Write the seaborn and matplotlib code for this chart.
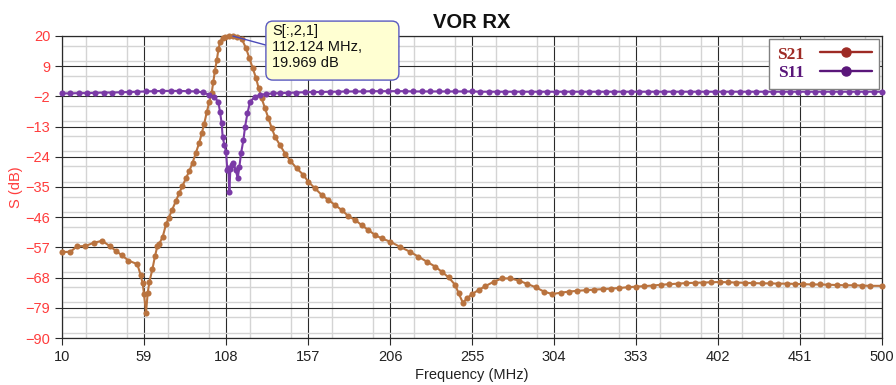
import matplotlib
matplotlib.use("Agg")
import matplotlib.pyplot as plt
from matplotlib.lines import Line2D
from matplotlib.patches import FancyBboxPatch
from matplotlib.ticker import FixedLocator, MultipleLocator
import seaborn as sns
import pandas as pd

# S21 trace (MHz, dB)
s21_freq = [10, 15, 19, 24, 29, 34, 38.5, 42.3, 45.8, 49.7, 55, 57, 58.2, 59, 60.2, 61.2,
            62.2, 64, 65.6, 67, 68.2, 70.2, 72.2, 73.8, 75.8, 78, 80, 82, 84, 86, 88, 90,
            92, 93.5, 95, 96.5, 98, 99.4, 100.4, 101.4, 102.5, 103.5, 104.5, 106, 107.5,
            109.5, 112.124, 114.5, 117.4, 120, 122, 124, 126, 127.5, 129.3, 131.3, 133.3,
            135.3, 137.3, 140.3, 143.3, 146.3, 150.3, 154.2, 157.2, 161.2, 165.2, 169.2,
            173.2, 177.2, 181.1, 185.1, 189.1, 193.1, 197.1, 201, 206, 212, 218, 223, 228,
            233, 237, 241, 245, 247, 249.5, 252, 255, 259, 263, 268, 273, 278, 283, 288,
            293, 298, 303, 308, 313, 318, 323, 328, 333, 338, 343, 348, 353, 358, 363, 368,
            373, 378, 383, 388, 393, 398, 403, 408, 413, 418, 423, 428, 433, 438, 443, 448,
            453, 458, 463, 468, 473, 478, 483, 488, 493, 500]
s21_db = [-58.7, -58.6, -56.6, -56.5, -55.3, -54.6, -56.5, -58.3, -59.9, -61.8, -63.1, -67.1,
          -70.1, -74.0, -80.8, -73.7, -69.6, -65.0, -60.1, -56.5, -55.6, -53.1, -48.5, -46.2,
          -43.4, -40.1, -37.3, -34.6, -31.9, -29.3, -26.2, -22.6, -18.9, -15.5, -11.9, -7.8,
          -4.0, -0.9, 3.2, 7.4, 11.2, 15.2, 17.9, 19.2, 19.6, 19.9, 19.969, 19.8, 19.0, 15.5,
          11.9, 8.2, 4.6, 1.0, -2.7, -6.3, -10.0, -13.5, -16.7, -19.8, -22.8, -25.4, -28.2,
          -30.6, -33.1, -35.5, -37.9, -39.7, -41.6, -43.4, -45.6, -47.0, -48.9, -50.7, -52.5,
          -53.7, -54.9, -56.8, -58.6, -60.4, -62.2, -64.0, -65.9, -67.9, -70.7, -73.7, -77.1,
          -75.6, -74.0, -72.5, -71.1, -69.5, -68.3, -68.3, -69.1, -70.3, -71.5, -73.1, -74.0,
          -73.5, -73.1, -72.8, -72.6, -72.4, -72.2, -72.0, -71.8, -71.5, -71.3, -71.1, -70.9,
          -70.6, -70.4, -70.2, -70.0, -69.9, -69.8, -69.7, -69.6, -69.7, -69.8, -69.9, -70.0,
          -70.1, -70.1, -70.2, -70.2, -70.3, -70.4, -70.5, -70.5, -70.6, -70.7, -70.8, -70.8,
          -70.9, -71.0, -71.0]

# S11 trace (MHz, dB)
s11_freq = [10, 15, 20, 25, 30, 35, 40, 45, 50, 55, 60, 65, 70, 75, 80, 85, 90, 94, 98, 101,
            103.4, 104.4, 105.4, 106, 107, 108, 108.8, 109.4, 110, 110.6, 111.5, 112.4, 113.8,
            115, 116, 117, 118.4, 119.4, 120.8, 122.4, 125.4, 128.3, 132, 136, 140, 145, 150,
            155, 160, 165, 170, 175, 180, 185, 190, 195, 200, 205, 210, 215, 220, 225, 230,
            235, 240, 245, 250, 255, 260, 265, 270, 275, 280, 285, 290, 295, 300, 305, 310,
            315, 320, 325, 330, 335, 340, 345, 350, 355, 360, 365, 370, 375, 380, 385, 390,
            395, 400, 405, 410, 415, 420, 425, 430, 435, 440, 445, 450, 455, 460, 465, 470,
            475, 480, 485, 490, 495, 500]
s11_db = [-0.9, -0.9, -0.8, -0.8, -0.7, -0.6, -0.6, -0.5, -0.4, -0.3, -0.2, -0.1, 0.0, 0.0,
          0.0, -0.1, -0.2, -0.5, -1.4, -2.4, -3.9, -7.6, -11.8, -16.7, -19.7, -22.1, -28.8,
          -28.0, -36.9, -28.5, -27.0, -26.4, -28.8, -31.8, -27.6, -22.7, -17.9, -13.0, -8.2,
          -3.9, -2.1, -1.5, -1.1, -0.9, -0.8, -0.7, -0.6, -0.5, -0.4, -0.4, -0.3, -0.3, -0.2,
          -0.2, -0.2, -0.1, -0.1, -0.1, -0.1, -0.1, -0.2, -0.2, -0.2, -0.2, -0.2, -0.2, -0.2,
          -0.2, -0.3, -0.3, -0.3, -0.3, -0.3, -0.3, -0.3, -0.3, -0.3, -0.3, -0.3, -0.3, -0.3,
          -0.3, -0.3, -0.3, -0.3, -0.3, -0.3, -0.3, -0.3, -0.3, -0.3, -0.3, -0.3, -0.3, -0.3,
          -0.3, -0.3, -0.3, -0.3, -0.3, -0.3, -0.3, -0.3, -0.3, -0.3, -0.3, -0.3, -0.3, -0.3,
          -0.3, -0.3, -0.3, -0.3, -0.3, -0.3, -0.3, -0.3]

x_ticks = [10, 59, 108, 157, 206, 255, 304, 353, 402, 451, 500]
y_ticks = [20, 9, -2, -13, -24, -35, -46, -57, -68, -79, -90]

marker_x, marker_y = 112.124, 19.969

trace_names = ["S21", "S11"]
line_colors = {"S21": "#B9733F", "S11": "#7A3AA6"}
legend_colors = {"S21": "#9E2B25", "S11": "#5A167A"}

df = pd.concat([
    pd.DataFrame({"Frequency (MHz)": s21_freq, "S (dB)": s21_db, "trace": "S21"}),
    pd.DataFrame({"Frequency (MHz)": s11_freq, "S (dB)": s11_db, "trace": "S11"}),
], ignore_index=True)

sns.set_style("white")
plt.rcParams["font.family"] = ["Liberation Sans", "DejaVu Sans"]

fig = plt.figure(figsize=(8.96, 3.85), dpi=100)
ax = fig.add_axes([62 / 896, 1 - 338 / 385, 820 / 896, 302 / 385])

sns.lineplot(data=df, x="Frequency (MHz)", y="S (dB)", hue="trace",
             hue_order=trace_names, palette=line_colors, estimator=None, sort=False,
             marker="o", markersize=4.4, markeredgewidth=0, linewidth=1.5,
             legend=False, ax=ax, zorder=3, clip_on=False)

ax.set_xlim(10, 500)
ax.set_ylim(-90, 20)
ax.xaxis.set_major_locator(FixedLocator(x_ticks))
ax.xaxis.set_minor_locator(MultipleLocator(24.5))
ax.yaxis.set_major_locator(FixedLocator(y_ticks))
ax.yaxis.set_minor_locator(MultipleLocator(5.5))

ax.grid(which="minor", color="#d4d4d4", linewidth=1.0, zorder=0)
ax.grid(which="major", color="#2a2a2a", linewidth=0.8, zorder=1)
ax.set_axisbelow(True)

for s in ax.spines.values():
    s.set_color("#2a2a2a")
    s.set_linewidth(0.9)

ax.tick_params(axis="y", which="major", colors="#2a2a2a", labelcolor="#ff3c3c",
               labelsize=10.5, length=5, width=0.8, direction="out", left=True)
ax.tick_params(axis="x", which="major", colors="#2a2a2a", labelcolor="#222222",
               labelsize=10.5, length=5, width=0.8, direction="out", bottom=True)
ax.tick_params(which="minor", length=0)

ax.set_xlabel("Frequency (MHz)", fontsize=10.5, color="#222222", labelpad=3)
ax.set_ylabel("S (dB)", fontsize=10.5, color="#ff3c3c", labelpad=2)
ax.set_title("VOR RX", fontsize=14.5, fontweight="bold", color="#111111", pad=6)

handles = [Line2D([0], [0], color=legend_colors[n], marker="o", markersize=6.5,
                  linewidth=1.7) for n in trace_names]
leg = ax.legend(handles, trace_names, loc="upper right", markerfirst=False,
                frameon=True, fancybox=False, edgecolor="#808080", framealpha=1,
                prop={"weight": "bold", "size": 12.5, "family": "Liberation Serif"},
                handlelength=3.0, handletextpad=0.9, borderpad=0.45, labelspacing=0.15,
                bbox_to_anchor=(1.0, 1.0), borderaxespad=0.15)
leg.get_frame().set_linewidth(1.0)
for txt, n in zip(leg.get_texts(), trace_names):
    txt.set_color(legend_colors[n])
leg.set_zorder(5)

# marker readout: callout box anchored to the S21 peak, offsets in pixels
fig.canvas.draw()
px, py = ax.transData.transform((marker_x, marker_y))
box = FancyBboxPatch((px + 33, py - 44), 133, 59, transform=None,
                     boxstyle="round,pad=0,rounding_size=7",
                     fc="#ffffd2", ec="#5a5ac0", lw=1.0, zorder=6)
fig.patches.append(box)
fig.add_artist(Line2D([px, px + 33], [py, py - 9], transform=None,
                      color="#4a4ab8", lw=1.0, zorder=6))
fig.text(px + 39, py + 12, f"S[:,2,1]\n{marker_x:.3f} MHz,\n{marker_y:.3f} dB",
         transform=None, ha="left", va="top", fontsize=10.5, color="#111111",
         linespacing=1.2, zorder=7)

fig.savefig("out.png", dpi=100, facecolor="white")
